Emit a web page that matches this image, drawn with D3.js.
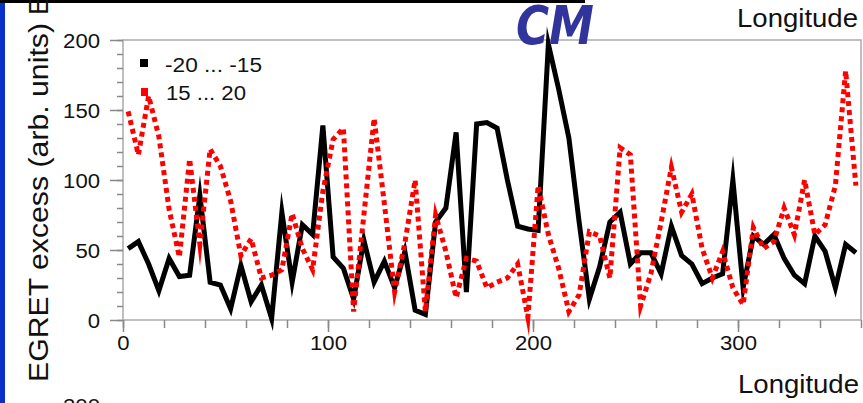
<!DOCTYPE html>
<html>
<head>
<meta charset="utf-8">
<script src="https://cdn.jsdelivr.net/npm/d3@7"></script>
<style>
  html, body { margin: 0; padding: 0; background: #fff; }
  svg { display: block; }
  text { font-family: "Liberation Sans", Arial, sans-serif; }
</style>
</head>
<body>
<svg id="chart" width="863" height="403"></svg>
<script>
// ---- data ----
const longitudes = [2.5,7.5,12.5,17.5,22.5,27.5,32.5,37.5,42.5,47.5,52.5,57.5,62.5,67.5,72.5,77.5,82.5,87.5,92.5,97.5,
  102.5,107.5,112.5,117.5,122.5,127.5,132.5,137.5,142.5,147.5,152.5,157.5,162.5,167.5,172.5,177.5,182.5,187.5,192.5,197.5,
  202.5,207.5,212.5,217.5,222.5,227.5,232.5,237.5,242.5,247.5,252.5,257.5,262.5,267.5,272.5,277.5,282.5,287.5,292.5,297.5,
  302.5,307.5,312.5,317.5,322.5,327.5,332.5,337.5,342.5,347.5,352.5,357.5];
const southValues = [51,56,40,21,44,31,32,89,27,25,8,39,13,25,1,77,27,68,61,139,
  45,37,15,57,27,42,23,49,7,4,70,80,134,20,140,141,137,100,67,65,
  64,197,165,130,70,15,38,70,77,40,48,48,33,67,46,40,26,30,33,100,
  23,60,54,61,44,32,26,60,49,23,54,48];
const northValues = [149,118,160,131,79,45,115,54,122,110,85,46,58,30,32,36,76,51,36,92,
  129,137,6,75,144,83,20,55,100,6,75,49,16,44,42,23,27,30,40,2,
  96,61,37,6,18,63,60,30,123,118,10,33,70,109,77,90,51,30,49,23,
  11,66,51,56,80,61,100,61,68,96,178,96];
const seriesNames = ["-20 ... -15", "15 ... 20"];
const xMajorTicks = [0, 100, 200, 300];
const yMajorTicks = [0, 50, 100, 150, 200];

// ---- layout ----
const svg = d3.select("#chart");
const L = 123, R = 861, T = 40, B = 320;
const x = d3.scaleLinear().domain([0, 360]).range([L, R]);
const y = d3.scaleLinear().domain([0, 200]).range([B, T]);

// slide background pieces
svg.append("rect").attr("x", 0).attr("y", 0).attr("width", 863).attr("height", 403).attr("fill", "#fff");
svg.append("rect").attr("x", 0).attr("y", 0).attr("width", 5).attr("height", 403).attr("fill", "#0a30cc");
svg.append("rect").attr("x", 0).attr("y", 0).attr("width", 585).attr("height", 3).attr("fill", "#000");

// frame
svg.append("rect").attr("x", L).attr("y", T).attr("width", R - L).attr("height", B - T)
  .attr("fill", "none").attr("stroke", "#aaa").attr("stroke-width", 1.5);

function styleAxis(g) {
  g.select(".domain").remove();
  g.selectAll(".tick line").attr("stroke", "#888").attr("stroke-width", 1.5);
  g.selectAll(".tick text").attr("fill", "#111").style("font-size", "20px")
    .style("font-family", "'Liberation Sans', Arial, sans-serif");
}

// minor ticks
svg.append("g").attr("transform", `translate(${L},0)`)
  .call(d3.axisLeft(y).tickValues(d3.range(0, 201, 10)).tickSize(6).tickFormat(""))
  .call(styleAxis);
svg.append("g").attr("transform", `translate(0,${B})`)
  .call(d3.axisBottom(x).tickValues(d3.range(0, 361, 20)).tickSize(8).tickFormat(""))
  .call(styleAxis);
// major ticks with labels
const yAx = svg.append("g").attr("transform", `translate(${L},0)`)
  .call(d3.axisLeft(y).tickValues(yMajorTicks).tickSize(13).tickPadding(10))
  .call(styleAxis);
yAx.selectAll(".tick text").attr("dy", "0.36em").attr("textLength", d => String(d).length * 12.3)
  .attr("lengthAdjust", "spacingAndGlyphs");
const xAx = svg.append("g").attr("transform", `translate(0,${B})`)
  .call(d3.axisBottom(x).tickValues(xMajorTicks).tickSize(12).tickPadding(4))
  .call(styleAxis);
xAx.selectAll(".tick text").attr("dy", "0.71em").attr("textLength", d => String(d).length * 12.3)
  .attr("lengthAdjust", "spacingAndGlyphs");

// lines
const line = d3.line().x(d => x(d[0])).y(d => y(d[1]));
const south = longitudes.map((l, i) => [l, southValues[i]]);
const north = longitudes.map((l, i) => [l, northValues[i]]);

svg.append("path").datum(south).attr("d", line)
  .attr("fill", "none").attr("stroke", "#000").attr("stroke-width", 5)
  .attr("stroke-linejoin", "miter").attr("stroke-miterlimit", 10);
svg.append("path").datum(north).attr("d", line)
  .attr("fill", "none").attr("stroke", "#ff0000").attr("stroke-width", 5)
  .attr("stroke-dasharray", "5,4")
  .attr("stroke-linejoin", "miter").attr("stroke-miterlimit", 10);

// legend
svg.append("rect").attr("x", 140).attr("y", 59).attr("width", 8).attr("height", 8).attr("fill", "#000");
svg.append("rect").attr("x", 141).attr("y", 88).attr("width", 7).attr("height", 8).attr("fill", "#ff0000");
svg.append("text").attr("x", 165).attr("y", 71.5).text(seriesNames[0])
  .style("font-size", "20px").attr("fill", "#111")
  .attr("textLength", 97).attr("lengthAdjust", "spacingAndGlyphs");
svg.append("text").attr("x", 166).attr("y", 100).text(seriesNames[1])
  .style("font-size", "20px").attr("fill", "#111")
  .attr("textLength", 80).attr("lengthAdjust", "spacingAndGlyphs");

// slide texts
svg.append("text").attr("x", 737).attr("y", 27).text("Longitude")
  .style("font-size", "26px").attr("fill", "#111").attr("textLength", 121).attr("lengthAdjust", "spacingAndGlyphs");
svg.append("text").attr("x", 738).attr("y", 393).text("Longitude")
  .style("font-size", "26px").attr("fill", "#111").attr("textLength", 121).attr("lengthAdjust", "spacingAndGlyphs");
svg.append("text").attr("transform", "translate(48,382) rotate(-90)").attr("x", 0).attr("y", 0)
  .text("EGRET excess (arb. units)").style("font-size", "27px").attr("fill", "#111")
  .attr("textLength", 359).attr("lengthAdjust", "spacingAndGlyphs");
svg.append("text").attr("transform", "translate(48,15) rotate(-90)").attr("x", 0).attr("y", 0)
  .text("EGRET").style("font-size", "27px").attr("fill", "#111");
svg.append("text").attr("x", 100).attr("y", 413).attr("text-anchor", "end").text("200")
  .style("font-size", "20px").attr("fill", "#111").attr("textLength", 37).attr("lengthAdjust", "spacingAndGlyphs");

// annotation
svg.append("text").attr("x", 516).attr("y", 44).text("CM")
  .style("font-family", "'DejaVu Sans', sans-serif").style("font-size", "54px")
  .style("font-weight", "bold").style("font-style", "italic")
  .attr("fill", "#31349a").attr("textLength", 78).attr("lengthAdjust", "spacingAndGlyphs");
</script>
</body>
</html>
